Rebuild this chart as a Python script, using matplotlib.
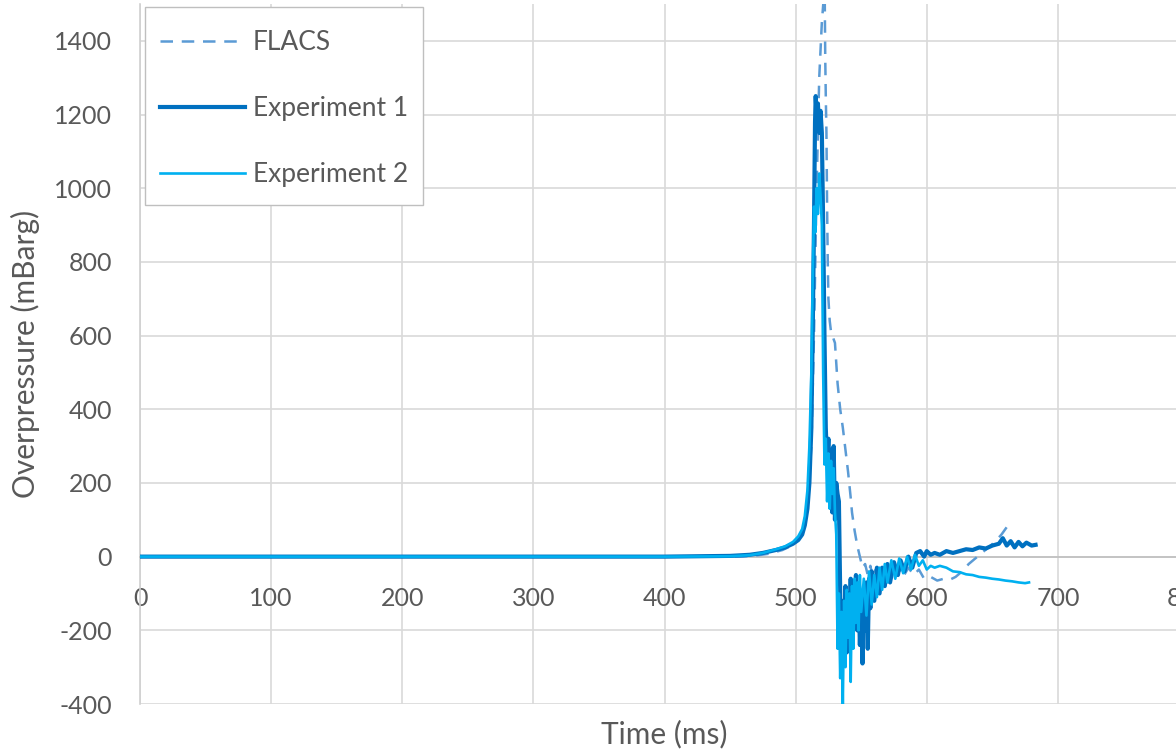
import matplotlib
matplotlib.use("Agg")
import matplotlib.pyplot as plt
from matplotlib.patches import Rectangle

# values (time in ms, overpressure in mBarg)
flacs_t = [0, 100, 200, 300, 400, 460, 470, 480, 490, 497, 502, 506, 509, 512, 514,
           516, 518, 520, 521.5, 522.2, 522.6, 523, 523.5, 524, 524.5, 525, 526, 527,
           528, 530, 532, 534, 536, 538, 540, 542, 543, 545, 547, 549, 551, 553, 555,
           557, 559, 561, 564, 567, 570, 573, 576, 579, 582, 586, 590, 594, 598, 603,
           608, 613, 618, 622, 627, 632, 637, 642, 647, 652, 657, 661, 665]
flacs_v = [0, 0, 0, 0, 0, 0, 3, 8, 18, 30, 50, 80, 140, 300, 600,
           1000, 1300, 1450, 1520, 1520, 1350, 1250, 1150, 950, 800, 700, 640, 610,
           600, 580, 470, 400, 350, 290, 230, 160, 120, 70, 30, 0, -30, -20, -50,
           -25, -60, -35, -70, -40, -65, -35, -60, -30, -55, -30, -50, -35, -60, -55,
           -65, -60, -62, -55, -40, -20, -5, 10, 25, 40, 60, 80, 90]

exp1_t = [0, 100, 200, 300, 400, 450, 465, 475, 485, 492, 498, 502, 505, 507, 509,
          510.5, 512, 513, 514, 514.8, 515.3, 516, 517, 518, 519, 520, 521, 522, 523,
          524, 525, 526, 527, 528, 529, 530, 531, 532, 533, 534, 535, 536, 537, 538,
          539, 540, 541, 542, 543, 544, 545, 546, 547, 548, 549, 550, 551, 552, 553,
          554, 555, 556, 557, 558, 560, 562, 564, 566, 568, 570, 572, 575, 578, 580,
          583, 586, 589, 592, 595, 598, 600, 603, 606, 610, 615, 620, 625, 630, 635,
          640, 645, 650, 655, 658, 661, 664, 667, 670, 673, 676, 680, 683]
exp1_v = [0, 0, 0, 0, 0, 2, 5, 10, 18, 25, 35, 45, 60, 85, 130,
          200, 350, 600, 900, 1180, 1250, 1200, 1230, 1150, 1210, 1150, 900, 600, 350,
          250, 320, 180, 290, 120, 300, 100, 200, 170, 150, -100, -250, -120, -200, -80,
          -260, -100, -180, -60, -220, -90, -150, -50, -200, -80, -240, -120, -290, -100, -200,
          -70, -250, -60, -140, -40, -120, -30, -100, -30, -80, -20, -70, -15, -50, -10,
          -40, 0, -30, 10, 15, 0, 15, 5, 10, 5, 15, 10, 15, 20, 18,
          25, 22, 30, 35, 50, 30, 42, 25, 40, 28, 38, 30, 32]

exp2_t = [0, 100, 200, 300, 400, 450, 465, 475, 485, 492, 498, 502, 505, 507, 509,
          510.5, 512, 513, 514, 515, 516, 517, 518, 519, 520, 521, 522, 523, 524, 525,
          526, 527, 528, 529, 530, 531, 532, 533, 534, 535, 536, 537, 538, 539, 540,
          541, 542, 543, 544, 545, 546, 547, 548, 549, 550, 552, 554, 556, 558, 560,
          562, 564, 566, 568, 570, 573, 576, 579, 582, 585, 588, 591, 594, 597, 600,
          603, 606, 610, 615, 620, 625, 630, 635, 640, 645, 650, 655, 660, 665, 670,
          675, 678]
exp2_v = [0, 0, 0, 0, 0, 1, 4, 10, 20, 28, 40, 55, 75, 110, 180,
          300, 500, 750, 950, 880, 1000, 930, 1040, 980, 900, 500, 250, 320, 150, 280,
          130, 260, 170, 240, 120, 60, -250, -100, -330, -150, -400, -120, -300, -90, -220,
          -100, -340, -80, -250, -60, -180, -70, -200, -50, -150, -60, -160, -40, -130, -50,
          -110, -30, -90, -20, -70, -10, -60, -5, -45, 0, -35, 5, -25, -10, -35,
          -25, -30, -25, -30, -40, -42, -48, -50, -55, -57, -60, -62, -65, -67, -70,
          -72, -70]

labels = ["FLACS", "Experiment 1", "Experiment 2"]
x_ticks = [0, 100, 200, 300, 400, 500, 600, 700, 800]
y_ticks = [-400, -200, 0, 200, 400, 600, 800, 1000, 1200, 1400]

plt.rcParams['font.family'] = ['Lato', 'DejaVu Sans']
plt.rcParams['axes.unicode_minus'] = False
text_col = '#595959'
grid_col = '#D9D9D9'
W, H = 1176, 751

fig = plt.figure(figsize=(W / 100, H / 100), dpi=100)
ax = fig.add_axes([140 / W, 47 / H, 1049 / W, 700 / H])

ax.plot(flacs_t, flacs_v, color='#5B9BD5', lw=1.8, ls=(0, (5, 3.5)), label=labels[0], zorder=3)
ax.plot(exp1_t, exp1_v, color='#0070C0', lw=3.0, label=labels[1], zorder=4)
ax.plot(exp2_t, exp2_v, color='#00B0F0', lw=1.9, label=labels[2], zorder=5)

ax.set_xlim(0, 800)
ax.set_ylim(-400, 1500)
ax.set_xticks(x_ticks)
ax.set_yticks(y_ticks)
ax.grid(True, color=grid_col, lw=1.2)
ax.set_axisbelow(True)

for side in ['top', 'right']:
    ax.spines[side].set_visible(False)
ax.spines['left'].set_color('#D0D0D0')
ax.spines['left'].set_linewidth(1.2)
ax.spines['bottom'].set_position(('data', 0))
ax.spines['bottom'].set_color('#BFBFBF')
ax.spines['bottom'].set_linewidth(1.2)

ax.tick_params(axis='both', length=0, labelsize=18, labelcolor=text_col)
ax.tick_params(axis='y', pad=20)
ax.tick_params(axis='x', pad=22)

ax.set_xlabel("Time (ms)", fontsize=21.5, color=text_col)
ax.xaxis.set_label_coords(0.5, -0.022, transform=ax.transAxes)
ax.set_ylabel("Overpressure (mBarg)", fontsize=21.5, color=text_col)
ax.yaxis.set_label_coords(-0.095, 0.5)

# legend box drawn separately so the padding can differ per side
box = Rectangle((145 / W, 1 - 205 / H), 278 / W, 198 / H, transform=fig.transFigure,
                facecolor='white', edgecolor='#BFBFBF', lw=1.0, zorder=6, clip_on=False)
ax.add_patch(box)
leg = ax.legend(loc='upper left', bbox_to_anchor=(160 / W, 1 - 30 / H),
                bbox_transform=fig.transFigure, borderaxespad=0, borderpad=0,
                fontsize=19, handlelength=3.22, handletextpad=0.3, labelspacing=1.55,
                frameon=False)
leg.set_zorder(7)
for t in leg.get_texts():
    t.set_color(text_col)

fig.savefig("out.png", dpi=100)
